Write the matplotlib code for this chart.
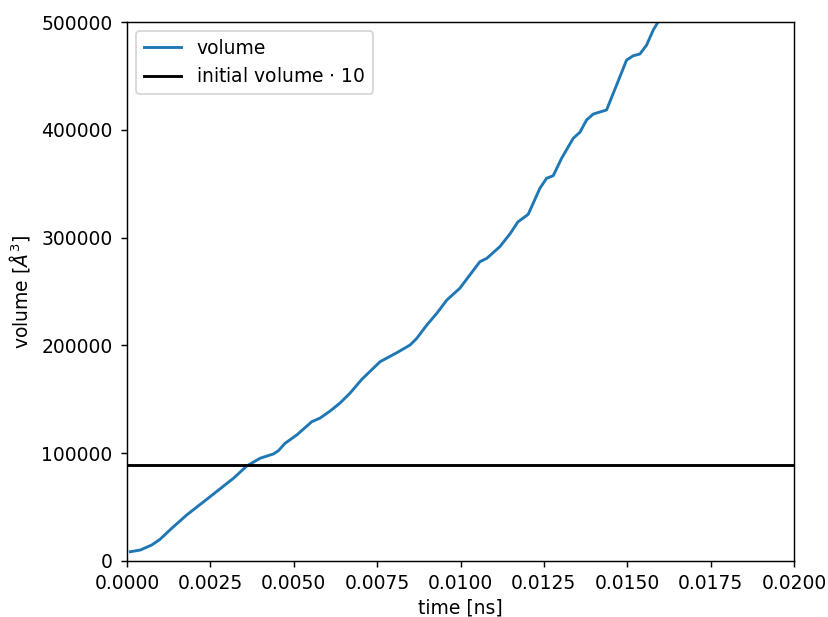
import matplotlib
matplotlib.use("Agg")
import matplotlib.pyplot as plt

plt.rcParams["font.size"] = 10.4

# simulation time [ns] and box volume [A^3]
time_ns = [0.0001, 0.0004, 0.00074, 0.00099, 0.00134, 0.00179, 0.00249, 0.00319,
           0.00359, 0.00399, 0.00439, 0.00454, 0.00474, 0.00509, 0.00554, 0.00579,
           0.00609, 0.00639, 0.00669, 0.00704, 0.00759, 0.00809, 0.00849, 0.00869,
           0.00899, 0.00929, 0.00959, 0.00998, 0.01028, 0.01058, 0.01079, 0.01118,
           0.01148, 0.01172, 0.01203, 0.01238, 0.01258, 0.01278, 0.01303, 0.01338,
           0.01358, 0.01378, 0.01398, 0.01438, 0.01468, 0.01498, 0.01518, 0.01538,
           0.01558, 0.01578, 0.01593, 0.0161]
volume = [8600, 10200, 14800, 20100, 30300, 42700, 59600, 76700,
          88100, 95300, 99300, 102300, 109200, 116900, 129200, 132600,
          139100, 146600, 155800, 168500, 184900, 193200, 200400, 206600,
          218900, 229800, 242100, 253000, 265300, 277600, 280800, 291600,
          303300, 314500, 321600, 345700, 355000, 357400, 373500, 392100,
          397700, 409100, 414600, 418400, 441500, 464700, 468700, 470300,
          478600, 492600, 500300, 510000]
initial_volume = 8900

fig = plt.figure(figsize=(828 / 130, 617 / 130), dpi=130)
ax = fig.add_axes([127 / 828, 1 - 561 / 617, 667 / 828, 539 / 617])

ax.plot(time_ns, volume, color="#1f77b4", lw=1.6, label="volume")
ax.axhline(initial_volume * 10, color="black", lw=1.6, label="initial volume $\\cdot$ 10")

ax.set_xlim(0, 0.02)
ax.set_ylim(0, 500000)
ax.set_xlabel("time [ns]", labelpad=3)
ax.set_ylabel("volume [$Å^3$]", labelpad=5)
ax.tick_params(axis="y", pad=4.5)
ax.legend(loc="upper left")

fig.savefig("out.png", dpi=130)
